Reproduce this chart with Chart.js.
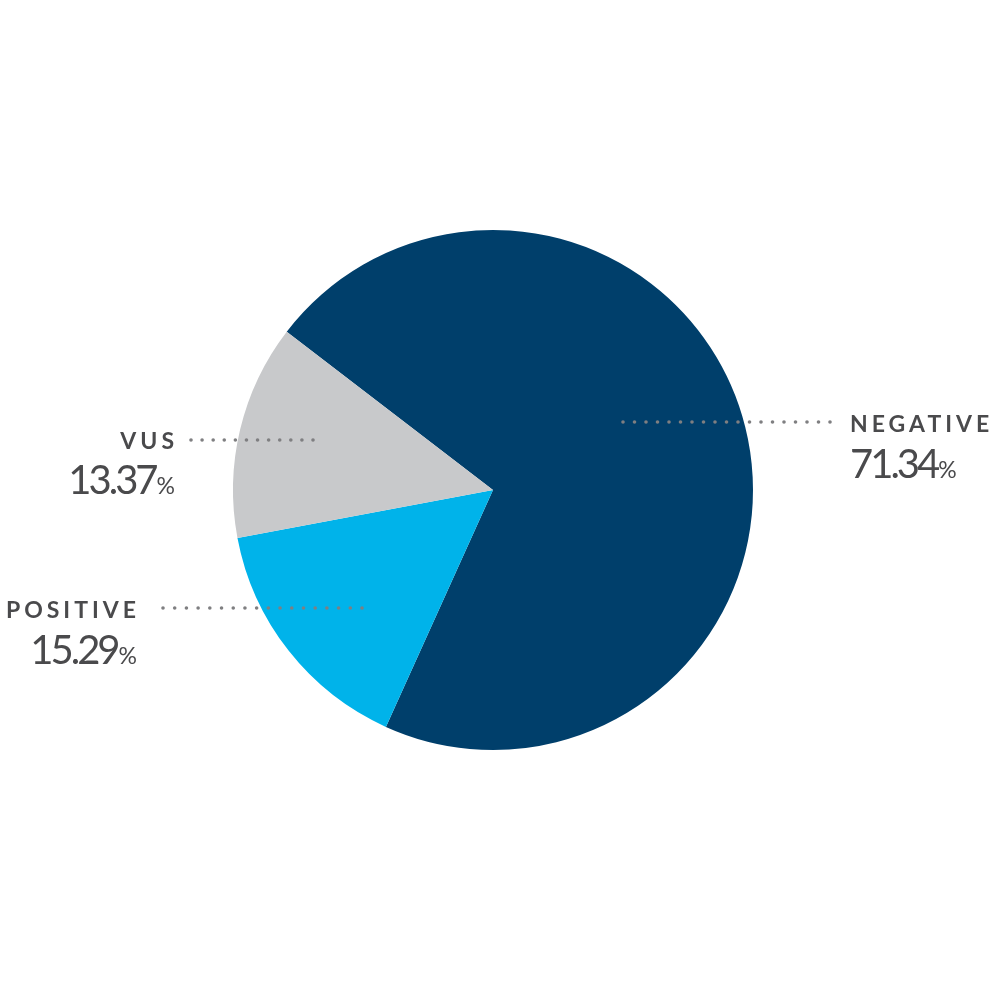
<!DOCTYPE html>
<html>
<head>
<meta charset="utf-8">
<script src="https://cdn.jsdelivr.net/npm/chart.js@4"></script>
<style>
  html, body { margin: 0; padding: 0; background: #ffffff; }
  #wrap { width: 1000px; height: 1000px; position: relative; }
</style>
</head>
<body>
<div id="wrap"><canvas id="c" width="1000" height="1000"></canvas></div>
<script>
const categories = ["NEGATIVE", "POSITIVE", "VUS"];
const values = [71.34, 15.29, 13.37];
const valueLabels = ["71.34", "15.29", "13.37"];
const colors = ["#003f6b", "#00b3ea", "#c8c9cb"];

// label layout per category
const labelLayout = [
  { x1: 623, x2: 830, ly: 422, tx: 850, nb: 432, vb: 478, align: "left" },
  { x1: 163, x2: 362, ly: 608, tx: 136, nb: 618, vb: 664, align: "right" },
  { x1: 191, x2: 313, ly: 440, tx: 174, nb: 449, vb: 494, align: "right" }
];

const labelPlugin = {
  id: "calloutLabels",
  afterDatasetsDraw(chart) {
    const ctx = chart.ctx;
    ctx.save();
    const nameFont = "700 23px Lato, 'Open Sans', sans-serif";
    const numFont = "400 40px Lato, 'Open Sans', sans-serif";
    const pctFont = "400 23px Lato, 'Open Sans', sans-serif";
    categories.forEach((name, i) => {
      const L = labelLayout[i];
      ctx.fillStyle = "#7f7f81";
      const n = Math.round((L.x2 - L.x1) / 11.4);
      for (let k = 0; k <= n; k++) {
        const x = L.x1 + (L.x2 - L.x1) * k / n;
        ctx.beginPath();
        ctx.arc(x, L.ly, 1.8, 0, Math.PI * 2);
        ctx.fill();
      }
      ctx.fillStyle = "#4a4a4c";
      ctx.textBaseline = "alphabetic";
      ctx.textAlign = "left";
      ctx.font = nameFont;
      ctx.letterSpacing = "4px";
      const nameW = ctx.measureText(name).width;
      const nx = L.align === "left" ? L.tx : L.tx - nameW + 4;
      ctx.fillText(name, nx, L.nb);
      ctx.font = numFont;
      ctx.letterSpacing = "-3px";
      const numW = ctx.measureText(valueLabels[i]).width;
      ctx.font = pctFont;
      ctx.letterSpacing = "0px";
      const pctW = ctx.measureText("%").width;
      const vx = L.align === "left" ? L.tx : L.tx - numW - pctW;
      ctx.font = numFont;
      ctx.letterSpacing = "-3px";
      ctx.fillText(valueLabels[i], vx, L.vb);
      ctx.font = pctFont;
      ctx.letterSpacing = "0px";
      ctx.fillText("%", vx + numW + 1, L.vb);
    });
    ctx.restore();
  }
};

new Chart(document.getElementById("c"), {
  type: "pie",
  data: {
    labels: categories,
    datasets: [{
      data: values,
      backgroundColor: colors,
      borderWidth: 0
    }]
  },
  options: {
    responsive: false,
    animation: false,
    rotation: -52.5,
    layout: { padding: { left: 233, right: 247, top: 230, bottom: 250 } },
    plugins: {
      legend: { display: false },
      tooltip: { enabled: false }
    }
  },
  plugins: [labelPlugin]
});
</script>
</body>
</html>
